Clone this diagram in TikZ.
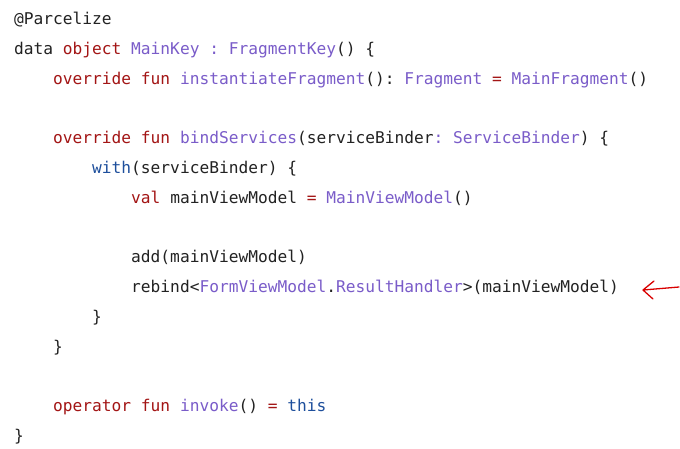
\documentclass[tikz,border=0pt]{standalone}
\usepackage{fontspec}
\setmonofont{DejaVu Sans Mono}
\definecolor{kred}{HTML}{A31515}
\definecolor{kpur}{HTML}{7A5CC9}
\definecolor{kblu}{HTML}{1E4F9C}
\definecolor{ktxt}{HTML}{222222}
\newcommand\kwR[1]{\textcolor{kred}{#1}}
\newcommand\tyP[1]{\textcolor{kpur}{#1}}
\newcommand\kwB[1]{\textcolor{kblu}{#1}}
\begin{document}
\begin{tikzpicture}[x=1pt,y=-1pt,
  code/.style={anchor=base west,inner sep=0pt,text=ktxt,font=\ttfamily\fontsize{16.2}{18}\selectfont}]
\useasboundingbox (0,0) rectangle (680,448);
\fill[white] (0,0) rectangle (680,448);
\node[code] (l1) at (14,24) {@Parcelize};
\node[code] (l2) at (14,54) {data \kwR{object} \tyP{MainKey : FragmentKey}() \{};
\node[code] (l3) at (14,84) {\hphantom{xxxx}\kwR{override fun} \tyP{instantiateFragment}(): \tyP{Fragment} \kwR{=} \tyP{MainFragment}()};
\node[code] (l5) at (14,143) {\hphantom{xxxx}\kwR{override fun} \tyP{bindServices}(serviceBinder\tyP{: ServiceBinder}) \{};
\node[code] (l6) at (14,173) {\hphantom{xxxxxxxx}\kwB{with}(serviceBinder) \{};
\node[code] (l7) at (14,203) {\hphantom{xxxxxxxxxxxx}\kwR{val} mainViewModel \kwR{=} \tyP{MainViewModel}()};
\node[code] (l9) at (14,262) {\hphantom{xxxxxxxxxxxx}add(mainViewModel)};
\node[code] (l10) at (14,292) {\hphantom{xxxxxxxxxxxx}rebind<\tyP{FormViewModel}.\tyP{ResultHandler}>(mainViewModel)};
\node[code] (l11) at (14,322) {\hphantom{xxxxxxxx}\}};
\node[code] (l12) at (14,352) {\hphantom{xxxx}\}};
\node[code] (l14) at (14,411) {\hphantom{xxxx}\kwR{operator fun} \tyP{invoke}() \kwR{=} \kwB{this}};
\node[code] (l15) at (14,441) {\}};
\coordinate (aS) at (679,287);
\coordinate (aT) at (643,290);
\draw[red!85!black,line width=1.3pt,line cap=round,line join=round] (aS) -- (aT) -- (654,281) (aT) -- (653,299);
\end{tikzpicture}
\end{document}
